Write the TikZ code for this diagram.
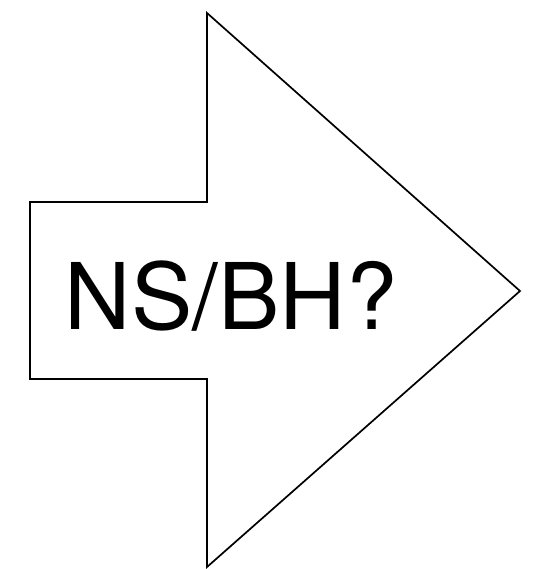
\documentclass[tikz,border=0pt]{standalone}
\usepackage{fontspec}
\setmainfont{TeX Gyre Heros}
\usetikzlibrary{positioning}
\tikzset{
  bigarrow/.style={draw=black, line width=1.7pt, line join=miter, fill=white},
  arrowlabel/.style={font=\fontsize{92}{98}\selectfont, inner sep=0pt, anchor=base}
}
\begin{document}
\begin{tikzpicture}[x=1pt,y=-1pt]
\useasboundingbox (0,0) rectangle (539,569);
% arrow outline
\draw[bigarrow] (30,202) -- (207,202) -- (207,13) -- (520,291) -- (207,567) -- (207,379) -- (30,379) -- cycle;
\node[arrowlabel] (label) at (231,329) {NS/BH?};
\end{tikzpicture}
\end{document}
